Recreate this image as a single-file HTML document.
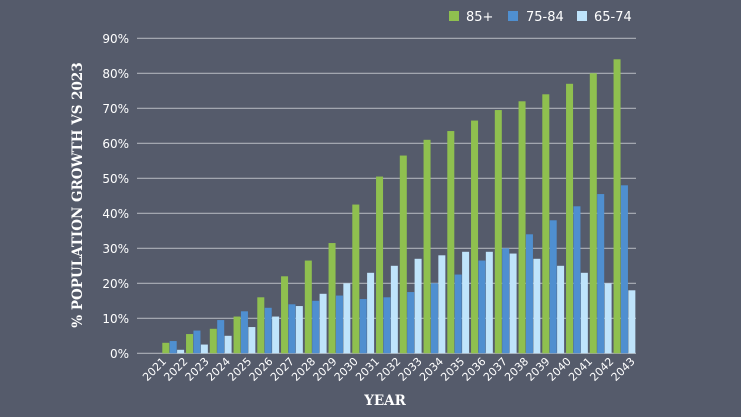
<!DOCTYPE html>
<html><head><style>
body{margin:0;background:#555b6b;}
svg{display:block}
text{font-family:"DejaVu Sans","Liberation Sans",sans-serif;fill:#fff}
</style></head><body>
<svg width="741" height="417" viewBox="0 0 741 417" xmlns="http://www.w3.org/2000/svg">
<rect width="741" height="417" fill="#555b6b"/>
<g id="grid" stroke="#aeb1b9" stroke-width="1.2"></g>
<g id="bars"></g>
<g id="ylab" font-size="12" text-anchor="end"></g>
<g id="xlab" font-size="11" text-anchor="end"></g>
<text transform="translate(82,195) rotate(-90)" text-anchor="middle" font-family="DejaVu Serif,serif" font-weight="bold" font-size="13.5" style="font-family:'DejaVu Serif',serif">% POPULATION GROWTH VS 2023</text>
<text x="385" y="405" text-anchor="middle" font-weight="bold" font-size="13.5" style="font-family:'DejaVu Serif',serif">YEAR</text>
<rect x="449" y="11" width="10" height="10" fill="#8fc04f"/><text x="466" y="21" font-size="13">85+</text>
<rect x="508" y="11" width="10" height="10" fill="#4f8fd0"/><text x="526" y="21" font-size="13">75-84</text>
<rect x="577" y="11" width="10" height="10" fill="#bfe4fb"/><text x="594" y="21" font-size="13">65-74</text>
</svg>
<script>
var ns="http://www.w3.org/2000/svg";
function el(p,t,a,tx){var e=document.createElementNS(ns,t);for(var k in a)e.setAttribute(k,a[k]);if(tx)e.textContent=tx;document.getElementById(p).appendChild(e);}
var y0=353.3,u=3.5;
for(var i=0;i<=9;i++){var y=y0-i*35;el('grid','line',{x1:137,x2:636,y1:y,y2:y});el('ylab','text',{x:129,y:y+4.5},(i*10)+'%');}
var g=[3,5.5,7,10.5,16,22,26.5,31.5,42.5,50.5,56.5,61,63.5,66.5,69.5,72,74,77,80,84];
var b=[3.5,6.5,9.5,12,13,14,15,16.5,15.5,16,17.5,20,22.5,26.5,30,34,38,42,45.5,48];
var l=[1,2.5,5,7.5,10.5,13.5,17,20,23,25,27,28,29,29,28.5,27,25,23,20,18];
var c=['#8fc04f','#4f8fd0','#bfe4fb'];
for(var i=0;i<20;i++){var x=162.3+i*23.75;[g,b,l].forEach(function(s,j){el('bars','rect',{x:x+j*7.4,y:y0-s[i]*u,width:7,height:s[i]*u,fill:c[j]});});}
for(var i=0;i<23;i++){var x=167+i*21.3;el('xlab','text',{transform:'translate('+x+',362) rotate(-45)'},String(2021+i));}
</script>
</body></html>
